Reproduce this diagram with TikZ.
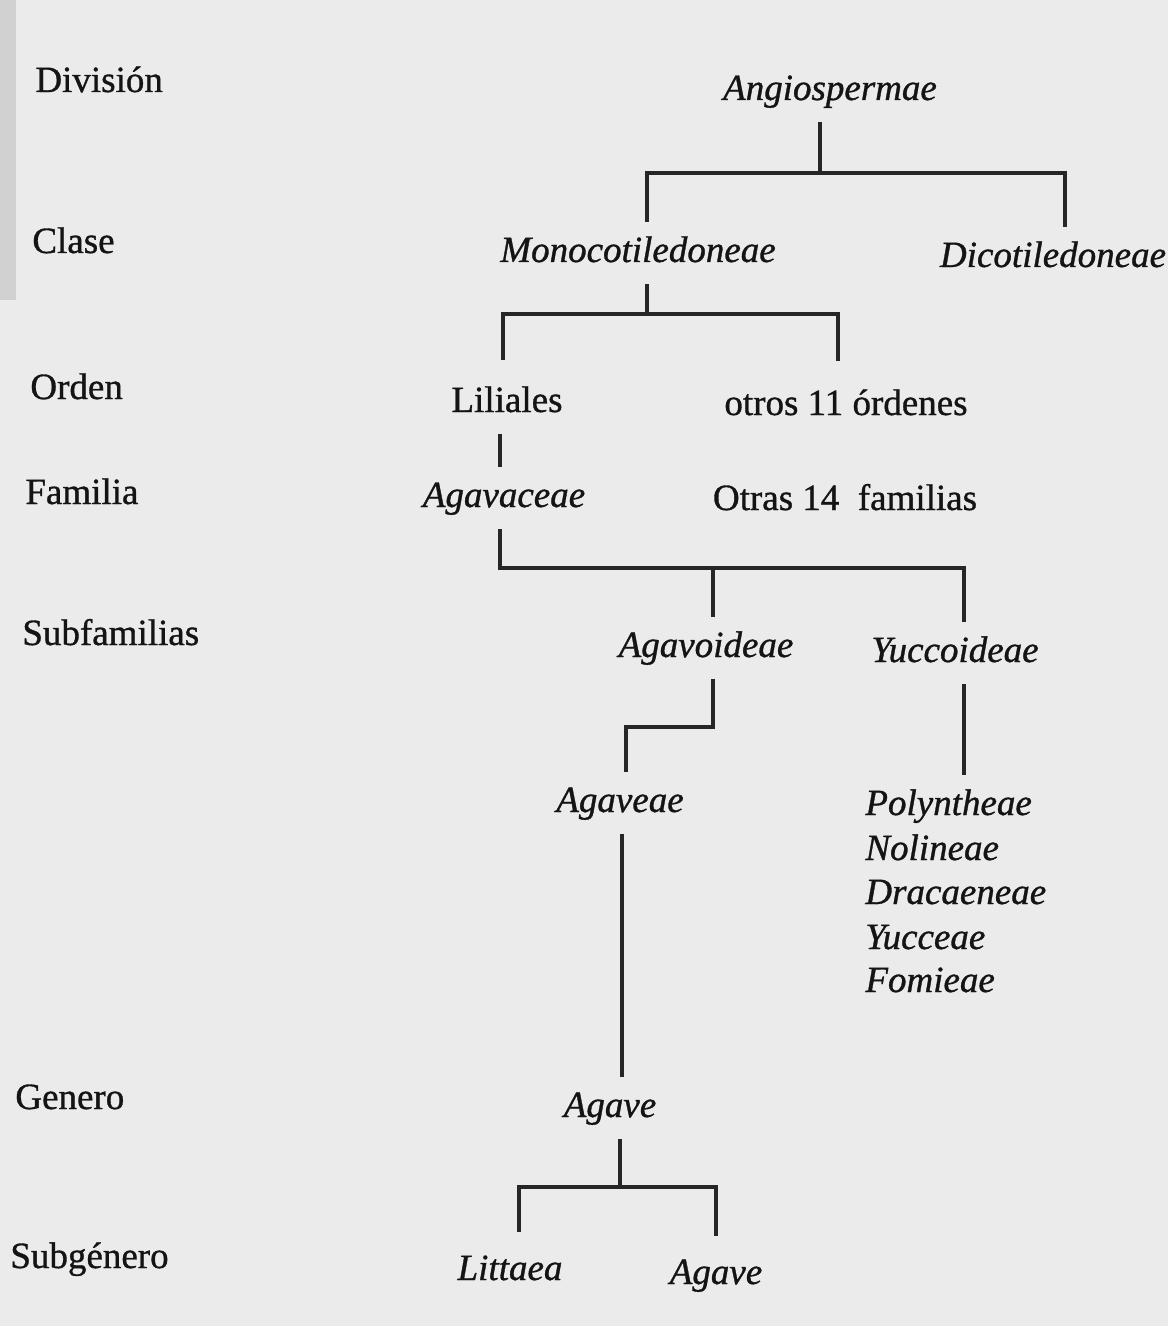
\documentclass[tikz,border=0pt]{standalone}
\usepackage{fontspec}
\setmainfont{Liberation Serif}[BoldFont={Liberation Serif}, BoldItalicFont={Liberation Serif Italic}, BoldFeatures={FakeBold=0.9}, BoldItalicFeatures={FakeBold=0.9}]
\begin{document}
\begin{tikzpicture}[x=0.5pt,y=-0.5pt,
  lbl/.style={font=\fontsize{18.5pt}{22pt}\selectfont\bfseries, text=black!92, inner xsep=0pt, inner ysep=7pt, text height=13pt, text depth=4pt},
  itl/.style={font=\fontsize{18.5pt}{22pt}\selectfont\bfseries\itshape},
  taxon/.style={lbl, anchor=base},
  rank/.style={lbl, anchor=base west},
  tribe/.style={lbl, itl, anchor=base west},
  tree/.style={line width=2pt, draw=black!85, line join=miter}]
\useasboundingbox (0,0) rectangle (1168,1326);
\fill[black!8] (0,0) rectangle (1168,1326);
\fill[black!18] (0,0) rectangle (16,300);
% rank labels
\node[rank] (rdiv) at (35,92) {División};
\node[rank] (rcla) at (32,253) {Clase};
\node[rank] (rord) at (30,399) {Orden};
\node[rank] (rfam) at (25,504) {Familia};
\node[rank] (rsub) at (22,645) {Subfamilias};
\node[rank] (rgen) at (15,1109) {Genero};
\node[rank] (rsg) at (10,1268) {Subgénero};
% taxa
\node[taxon, itl] (angio) at (830,100) {Angiospermae};
\node[taxon, itl] (mono) at (638,262) {Monocotiledoneae};
\node[taxon, itl] (dico) at (1053,267) {Dicotiledoneae};
\node[taxon] (lil) at (507,412) {Liliales};
\node[taxon] (otros) at (846,415) {otros 11 órdenes};
\node[taxon, itl] (aga) at (504,507) {Agavaceae};
\node[taxon] (otras) at (845,510) {Otras 14\ \ familias};
\node[taxon, itl] (agav) at (706,657) {Agavoideae};
\node[taxon, itl] (yucc) at (955,662) {Yuccoideae};
\node[taxon, itl] (agaveae) at (620,812) {Agaveae};
\node[tribe] (poly) at (865,815) {Polyntheae};
\node[tribe] (noli) at (865,860) {Nolineae};
\node[tribe] (drac) at (865,904) {Dracaeneae};
\node[tribe] (yuct) at (865,949) {Yucceae};
\node[tribe] (fomi) at (865,992) {Fomieae};
\node[taxon, itl] (agaveg) at (610,1117) {Agave};
\node[taxon, itl] (litt) at (510,1280) {Littaea};
\node[taxon, itl] (agsub) at (716,1284) {Agave};
% junction coordinates
\coordinate (j1) at (820,173); \coordinate (c1L) at (647,173); \coordinate (c1R) at (1065,173);
\coordinate (j2) at (647,314); \coordinate (c2L) at (503,314); \coordinate (c2R) at (838,314);
\coordinate (v0) at (500,450);
\coordinate (c3L) at (500,568); \coordinate (j3) at (713,568); \coordinate (c3R) at (964,568);
\coordinate (k1) at (713,727); \coordinate (k2) at (626,727);
\coordinate (v1) at (622,950);
\coordinate (j4) at (620,1187); \coordinate (c4L) at (519,1187); \coordinate (c4R) at (716,1187);
% connectors
\draw[tree] (angio.south -| j1) -- (j1);
\draw[tree] (mono.north -| c1L) |- (c1R) -- (dico.north -| c1R);
\draw[tree] (mono.south -| j2) -- (j2);
\draw[tree] ([yshift=6pt]lil.north -| c2L) |- (c2R) -- ([yshift=7pt]otros.north -| c2R);
\draw[tree] (lil.south -| v0) -- (aga.north -| v0);
\draw[tree] (aga.south -| c3L) |- (c3R) -- (yucc.north -| c3R);
\draw[tree] (j3) -- (agav.north -| j3);
\draw[tree] (agav.south -| k1) -- (k1) -- (k2) -- (agaveae.north -| k2);
\draw[tree] (yucc.south -| c3R) -- (poly.north -| c3R);
\draw[tree] (agaveae.south -| v1) -- (agaveg.north -| v1);
\draw[tree] (agaveg.south -| j4) -- (j4);
\draw[tree] ([yshift=4pt]litt.north -| c4L) |- (c4R) -- ([yshift=4pt]agsub.north -| c4R);
\end{tikzpicture}
\end{document}
